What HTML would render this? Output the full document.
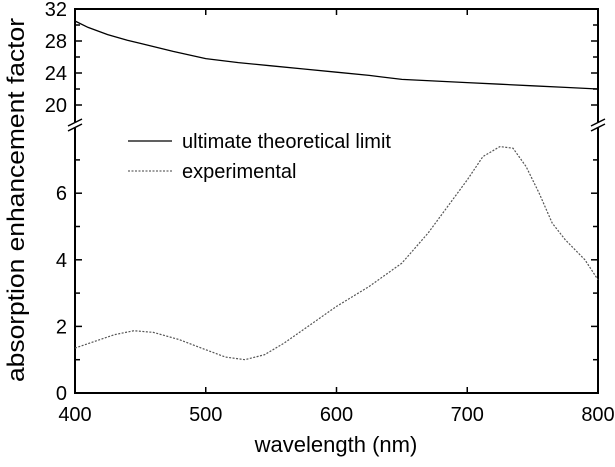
<!DOCTYPE html>
<html><head><meta charset="utf-8"><style>
body{margin:0;background:#fff}
svg text{font-family:"Liberation Sans",Arial,sans-serif;fill:#000}
</style></head><body>
<svg width="615" height="462" id="c">
<g id="g"></g>
</svg>
<script>
const wl=[400,410,425,440,450,475,500,525,550,575,600,625,650,675,700,725,750,775,800];
const theory=[30.5,29.7,28.8,28.1,27.7,26.7,25.8,25.3,24.9,24.5,24.1,23.7,23.2,23.0,22.8,22.6,22.4,22.2,22.0];
const expW=[400,415,430,445,460,480,500,515,530,545,560,580,600,625,650,670,685,700,712,725,735,745,755,765,775,790,800];
const expV=[1.35,1.55,1.75,1.87,1.82,1.6,1.3,1.08,1.0,1.15,1.5,2.05,2.6,3.2,3.9,4.8,5.6,6.4,7.1,7.4,7.35,6.8,6.0,5.1,4.6,4.0,3.4];
const xTicks=[400,500,600,700,800];
const topTicks=[20,24,28,32];
const botTicks=[0,2,4,6];
const X=v=>75+(v-400)*1.3075;
const YT=v=>9+(32-v)*8;
const YB=v=>393-v*33.3;
const g=document.getElementById('g');
const ns='http://www.w3.org/2000/svg';
function el(t,a,name,txt){const e=document.createElementNS(ns,t);for(const k in a)e.setAttribute(k,a[k]);


if(txt!==undefined)e.textContent=txt;g.appendChild(e);return e;}
el('path',{d:'M75,122 V9 H598 V122 M75,128 V393 H598 V128',fill:'none',stroke:'#000','stroke-width':2},'axes-frame');
el('path',{d:'M68,126 L82,119 M68,131 L82,124 M591,126 L605,119 M591,131 L605,124',stroke:'#000','stroke-width':1.5},'axis-break');
xTicks.forEach((v,i)=>{el('line',{x1:X(v),x2:X(v),y1:393,y2:387,stroke:'#000','stroke-width':1.5},'x-tick');
el('line',{x1:X(v),x2:X(v),y1:9,y2:15,stroke:'#000','stroke-width':1.5},'x-tick-top');
el('text',{x:X(v),y:421,'text-anchor':'middle','font-size':20},'x-tick-label',String(v));});
for(let v=20;v<=32;v+=2){const big=v%4==0;
el('line',{x1:75,x2:75+(big?7:5),y1:YT(v),y2:YT(v),stroke:'#000','stroke-width':1.5},'y-tick');
el('line',{x1:598,x2:598-(big?7:5),y1:YT(v),y2:YT(v),stroke:'#000','stroke-width':1.5},'y-tick-right');}
for(let v=0;v<=7;v++){const big=v%2==0;
el('line',{x1:75,x2:75+(big?7:5),y1:YB(v),y2:YB(v),stroke:'#000','stroke-width':1.5},'y-tick');
el('line',{x1:598,x2:598-(big?7:5),y1:YB(v),y2:YB(v),stroke:'#000','stroke-width':1.5},'y-tick-right');}
topTicks.forEach(v=>el('text',{x:67,y:YT(v)+7,'text-anchor':'end','font-size':20},'y-tick-label',String(v)));
botTicks.forEach(v=>el('text',{x:67,y:YB(v)+7,'text-anchor':'end','font-size':20},'y-tick-label',String(v)));
el('polyline',{points:wl.map((w,i)=>X(w)+','+YT(theory[i])).join(' '),fill:'none',stroke:'#000','stroke-width':1.3},'theoretical-limit-line');
el('polyline',{points:expW.map((w,i)=>X(w)+','+YB(expV[i])).join(' '),fill:'none',stroke:'#555','stroke-width':1.2,'stroke-dasharray':'2,1.5'},'experimental-line');
el('line',{x1:128,x2:172,y1:141,y2:141,stroke:'#000','stroke-width':1.3},'legend-solid-swatch');
el('text',{x:182,y:148,'font-size':20},'legend-theoretical','ultimate theoretical limit');
el('line',{x1:128,x2:172,y1:171,y2:171,stroke:'#666','stroke-width':1.2,'stroke-dasharray':'2,1.5'},'legend-dashed-swatch');
el('text',{x:182,y:178,'font-size':20},'legend-experimental','experimental');
el('text',{x:336,y:452,'text-anchor':'middle','font-size':22},'x-axis-title','wavelength (nm)');
el('text',{x:0,y:0,transform:'translate(24,200) rotate(-90)','text-anchor':'middle','font-size':24,textLength:364,lengthAdjust:'spacingAndGlyphs'},'y-axis-title','absorption enhancement factor');
</script>
</body></html>
